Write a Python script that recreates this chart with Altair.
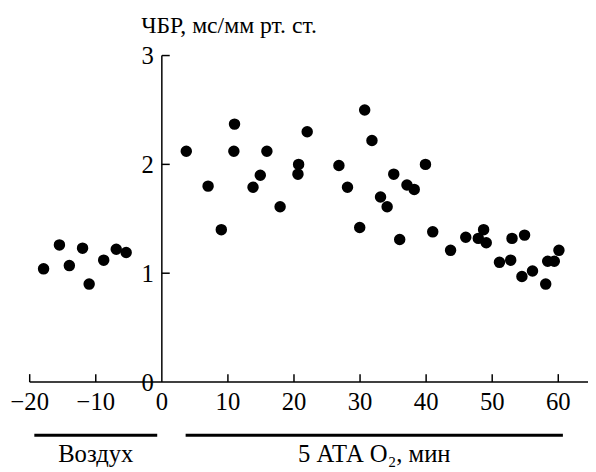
import altair as alt
import pandas as pd

# --- data ---
air_x = [-17.9, -15.5, -14.0, -12.0, -11.0, -8.8, -6.9, -5.4]
air_y = [1.04, 1.26, 1.07, 1.23, 0.90, 1.12, 1.22, 1.19]

o2_x = [3.7, 7.0, 9.0, 10.9, 11.0, 13.8, 14.9, 15.9, 17.9, 20.6, 20.7, 22.0,
        26.8, 28.1, 29.95, 30.7, 31.8, 33.1, 34.1, 35.1, 36.0, 37.1, 38.2,
        39.9, 41.0, 43.7, 46.0, 47.9, 48.7, 49.1, 51.1, 52.8, 53.0, 54.5,
        54.9, 56.1, 58.1, 58.4, 59.4, 60.1]
o2_y = [2.12, 1.80, 1.40, 2.12, 2.37, 1.79, 1.90, 2.12, 1.61, 1.91, 2.00, 2.30,
        1.99, 1.79, 1.42, 2.50, 2.22, 1.70, 1.61, 1.91, 1.31, 1.81, 1.77,
        2.00, 1.38, 1.21, 1.33, 1.32, 1.40, 1.28, 1.10, 1.12, 1.32, 0.97,
        1.35, 1.02, 0.90, 1.11, 1.11, 1.21]

x_ticks = [-20, -10, 10, 20, 30, 40, 50, 60]
x_labels = ["−20", "−10", "10", "20", "30", "40", "50", "60"]
x_zero_label = "0"
y_ticks = [0, 1, 2, 3]
y_labels = ["0", "1", "2", "3"]

segments_start = [-19.3, 3.6]
segments_end = [-0.7, 60.7]
segment_labels = ["Воздух", "5 АТА O₂, мин"]

y_title = "ЧБР, мс/мм рт. ст."

X_DOMAIN = [-20, 64.5]
Y_DOMAIN = [0, 3]
W, H = 566, 331
FONT = "Liberation Serif"
INK = "black"
PX_X = W / (X_DOMAIN[1] - X_DOMAIN[0])
PX_Y = H / (Y_DOMAIN[1] - Y_DOMAIN[0])

xs = alt.Scale(domain=X_DOMAIN, nice=False, zero=False)
ys = alt.Scale(domain=Y_DOMAIN, nice=False, zero=False)


def X(f):
    return alt.X(f, scale=xs, axis=None)


def Y(f):
    return alt.Y(f, scale=ys, axis=None)


pts = pd.DataFrame({"x": air_x + o2_x, "y": air_y + o2_y})
points = alt.Chart(pts).mark_circle(size=135, color=INK, opacity=1).encode(
    x=X("x:Q"), y=Y("y:Q"))

# all straight strokes as two-point lines (axes, inward ticks)
rows = []
rows += [{"g": "xaxis", "x": X_DOMAIN[0], "y": 0}, {"g": "xaxis", "x": X_DOMAIN[1], "y": 0}]
rows += [{"g": "yaxis", "x": 0, "y": Y_DOMAIN[0]}, {"g": "yaxis", "x": 0, "y": Y_DOMAIN[1]}]
for t in x_ticks:
    rows += [{"g": f"xt{t}", "x": t, "y": 0}, {"g": f"xt{t}", "x": t, "y": 8 / PX_Y}]
for t in y_ticks[1:]:
    rows += [{"g": f"yt{t}", "x": 0, "y": t}, {"g": f"yt{t}", "x": 8 / PX_X, "y": t}]
strokes = alt.Chart(pd.DataFrame(rows)).mark_line(color=INK, strokeWidth=1.5).encode(
    x=X("x:Q"), y=Y("y:Q"), detail="g:N", order="x:Q")

# bottom period bars
SEG_Y = -54 / PX_Y
seg_rows = []
for i, (a, b) in enumerate(zip(segments_start, segments_end)):
    seg_rows += [{"g": f"s{i}", "x": a, "y": SEG_Y}, {"g": f"s{i}", "x": b, "y": SEG_Y}]
segs = alt.Chart(pd.DataFrame(seg_rows)).mark_line(color=INK, strokeWidth=3).encode(
    x=X("x:Q"), y=Y("y:Q"), detail="g:N")

xlabels = alt.Chart(pd.DataFrame({"x": x_ticks + [0], "lab": x_labels + [x_zero_label],
                                  "y": [-28 / PX_Y] * (len(x_ticks) + 1)})).mark_text(
    font=FONT, fontSize=25, baseline="alphabetic").encode(
    x=X("x:Q"), y=Y("y:Q"), text="lab:N")
ylabels = alt.Chart(pd.DataFrame({"x": [0] * 4, "y": y_ticks, "lab": y_labels})).mark_text(
    font=FONT, fontSize=25, align="right", dx=-8, dy=1).encode(
    x=X("x:Q"), y=Y("y:Q"), text="lab:N")
ytitle = alt.Chart(pd.DataFrame({"t": [y_title], "x": [113 / PX_X + X_DOMAIN[0]],
                                 "y": [Y_DOMAIN[1] + 23 / PX_Y]})).mark_text(
    font=FONT, fontSize=24, align="left", baseline="alphabetic").encode(
    x=X("x:Q"), y=Y("y:Q"), text="t:N")
seg_text = alt.Chart(pd.DataFrame({
    "mid": [(a + b) / 2 for a, b in zip(segments_start, segments_end)],
    "y": [-81 / PX_Y] * 2, "t": segment_labels})).mark_text(
    font=FONT, fontSize=25, baseline="alphabetic").encode(
    x=X("mid:Q"), y=Y("y:Q"), text="t:N")

chart = alt.layer(points, strokes, segs, xlabels, ylabels, ytitle, seg_text).properties(
    width=W, height=H,
    padding={"left": 22, "top": 45, "right": 0, "bottom": 88},
    autosize=alt.AutoSizeParams(type="none"),
    background="white",
    view=alt.ViewBackground(stroke=None),
)

chart.save("out.html", embed_options={"renderer": "svg", "actions": False})
